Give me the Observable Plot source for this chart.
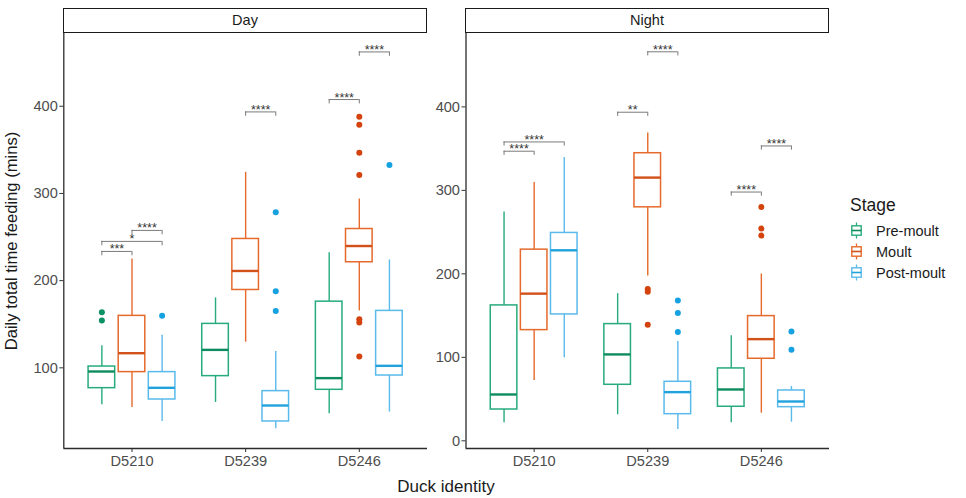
<!DOCTYPE html>
<html><head><meta charset="utf-8">
<script src="https://cdn.jsdelivr.net/npm/d3@7"></script>
<script src="https://cdn.jsdelivr.net/npm/@observablehq/plot@0.6"></script>
<style>
body{margin:0;background:#fff;font-family:"Liberation Sans",Arial,sans-serif;}
#wrap{position:relative;width:966px;height:498px;overflow:hidden;background:#fff;}
.panel{position:absolute;top:0;}
.panel g[aria-label="x-axis tick label"], .panel g[aria-label="y-axis tick label"]{font-size:14.6px;}
.strip{position:absolute;top:8px;height:25px;border:1.4px solid #1a1a1a;box-sizing:border-box;text-align:center;font-size:14.5px;line-height:22px;color:#1a1a1a;background:#fff;z-index:2;}
.ytitle{position:absolute;left:12px;top:241px;transform:translate(-50%,-50%) rotate(-90deg);white-space:nowrap;font-size:16.6px;color:#1a1a1a;}
.xtitle{position:absolute;left:446px;top:487px;transform:translate(-50%,-50%);white-space:nowrap;font-size:17px;color:#1a1a1a;}
.legend{position:absolute;left:850px;top:192px;}
.legend .title{font-size:17.5px;color:#1a1a1a;height:28px;line-height:26px;}
.legend .item{display:flex;align-items:center;height:21px;font-size:14.5px;color:#1a1a1a;}
.legend .item svg{margin-right:14px;margin-left:1px;}
</style>
</head><body>
<div id="wrap"></div>
<script>
// ---- data ----
const ducks = ["D5210", "D5239", "D5246"];
const stages = ["Pre-moult", "Moult", "Post-moult"];
const boxColors = ["#27ab7c", "#e56a2c", "#5abaeb"];
const medianColors = ["#0f8c5f", "#d2501a", "#22a2dd"];
const dotColors = ["#0b9163", "#d4420e", "#16a1e0"];

// box stats, order: D5210 (pre, moult, post), D5239 (...), D5246 (...)
const dayLo  = [57.6, 54.5, 38.5, 60.3, 129.4, 30.1, 47.3, 165.3, 49.3];
const dayQ1  = [76.7, 95.1, 63.7, 90.5, 189.3, 38.5, 74.8, 221.1, 91.2];
const dayMed = [95.8, 116.8, 77.1, 120.6, 211.1, 56.8, 88.2, 239.7, 102.3];
const dayQ3  = [101.5, 159.6, 95.1, 150.4, 247.8, 73.3, 175.9, 259.2, 165.3];
const dayHi  = [125.2, 224.9, 137.5, 180.2, 324.2, 118.7, 232.1, 293.6, 223.7];

const nightLo  = [21.6, 72.3, 99.5, 31.2, 197.4, 13.5, 21.6, 33.1, 22.3];
const nightQ1  = [37.5, 132.6, 151.4, 67.1, 279.7, 31.9, 40.8, 98.3, 40.3];
const nightMed = [55.5, 176.3, 228.2, 103.5, 315.3, 58.3, 61.5, 121.8, 47.1];
const nightQ3  = [162.2, 229.0, 249.0, 139.8, 344.5, 70.7, 86.7, 149.4, 60.3];
const nightHi  = [274.1, 309.4, 339.3, 176.3, 368.8, 119.1, 125.9, 199.8, 65.1];

const dayOutliers = [
  ["D5210", "Pre-moult", 163.8], ["D5210", "Pre-moult", 154.2],
  ["D5210", "Post-moult", 159.6],
  ["D5239", "Post-moult", 278.3], ["D5239", "Post-moult", 187.9], ["D5239", "Post-moult", 165.3],
  ["D5246", "Moult", 387.9], ["D5246", "Moult", 378.7], ["D5246", "Moult", 346.6], ["D5246", "Moult", 321.1],
  ["D5246", "Moult", 155.8], ["D5246", "Moult", 151.9], ["D5246", "Moult", 112.9],
  ["D5246", "Post-moult", 332.5]
];
const nightOutliers = [
  ["D5239", "Moult", 181.8], ["D5239", "Moult", 178.7], ["D5239", "Moult", 139.1],
  ["D5239", "Post-moult", 168.2], ["D5239", "Post-moult", 153.0], ["D5239", "Post-moult", 130.2],
  ["D5246", "Moult", 280.1], ["D5246", "Moult", 254.2], ["D5246", "Moult", 245.8],
  ["D5246", "Post-moult", 131.0], ["D5246", "Post-moult", 109.1]
];

const dayBrackets = [
  ["D5210", "Pre-moult", "Moult", 233.5, "***"],
  ["D5210", "Pre-moult", "Post-moult", 245.0, "*"],
  ["D5210", "Moult", "Post-moult", 257.6, "****"],
  ["D5239", "Moult", "Post-moult", 393.5, "****"],
  ["D5246", "Pre-moult", "Moult", 407.7, "****"],
  ["D5246", "Moult", "Post-moult", 462.3, "****"]
];
const nightBrackets = [
  ["D5210", "Pre-moult", "Moult", 346.9, "****"],
  ["D5210", "Pre-moult", "Post-moult", 358.0, "****"],
  ["D5239", "Pre-moult", "Moult", 393.6, "**"],
  ["D5239", "Moult", "Post-moult", 466.0, "****"],
  ["D5246", "Pre-moult", "Moult", 298.0, "****"],
  ["D5246", "Moult", "Post-moult", 353.2, "****"]
];

const dayTicks = [100, 200, 300, 400];
const nightTicks = [0, 100, 200, 300, 400];

// ---- helpers ----
const dodge = 0.265, halfBox = 0.117, tickLen = 5;
const xPos = (duck, stage) => ducks.indexOf(duck) + 1 + (stages.indexOf(stage) - 1) * dodge;

function makeRows(lo, q1, med, q3, hi) {
  const rows = [];
  ducks.forEach((d, di) => stages.forEach((s, si) => {
    const i = di * 3 + si;
    rows.push({duck: d, stage: s, si, x: xPos(d, s), lo: lo[i], q1: q1[i], med: med[i], q3: q3[i], hi: hi[i]});
  }));
  return rows;
}

function panel(opts) {
  const {rows, outliers, brackets, yDomain, yTicks, width, marginLeft, marginRight} = opts;
  const outs = outliers.map(([d, s, v]) => ({si: stages.indexOf(s), x: xPos(d, s), y: v}));
  const brs = brackets.map(([d, a, b, y, label]) => ({xa: xPos(d, a), xb: xPos(d, b), y, label}));
  const marks = [];
  stages.forEach((s, si) => {
    const r = rows.filter(d => d.si === si);
    const o = outs.filter(d => d.si === si);
    marks.push(
      Plot.ruleX(r, {x: "x", y1: "lo", y2: "q1", stroke: boxColors[si], strokeWidth: 1.4}),
      Plot.ruleX(r, {x: "x", y1: "q3", y2: "hi", stroke: boxColors[si], strokeWidth: 1.4}),
      Plot.rect(r, {x1: d => d.x - halfBox, x2: d => d.x + halfBox, y1: "q1", y2: "q3", fill: "white", stroke: boxColors[si], strokeWidth: 1.5}),
      Plot.ruleY(r, {y: "med", x1: d => d.x - halfBox, x2: d => d.x + halfBox, stroke: medianColors[si], strokeWidth: 2.4}),
      Plot.dot(o, {x: "x", y: "y", r: 3, fill: dotColors[si], stroke: "none"})
    );
  });
  marks.push(
    Plot.ruleY(brs, {y: "y", x1: "xa", x2: "xb", stroke: "#6b6b6b", strokeWidth: 0.9}),
    Plot.ruleX(brs, {x: "xa", y1: "y", y2: d => d.y - tickLen, stroke: "#6b6b6b", strokeWidth: 0.9}),
    Plot.ruleX(brs, {x: "xb", y1: "y", y2: d => d.y - tickLen, stroke: "#6b6b6b", strokeWidth: 0.9}),
    Plot.text(brs, {x: d => (d.xa + d.xb) / 2, y: "y", text: "label", lineAnchor: "bottom", dy: 2, fontSize: 12.5, fill: "#333"}),
    Plot.axisY({ticks: yTicks, tickSize: 4, tickPadding: 2, stroke: "#333", fill: "#4d4d4d", fontSize: 14.6, label: null}),
    Plot.axisX({ticks: [1, 2, 3], tickFormat: d => ducks[d - 1], tickSize: 4, tickPadding: 3, stroke: "#333", fill: "#4d4d4d", fontSize: 14.6, label: null}),
    Plot.ruleX([0.4], {stroke: "#2b2b2b", strokeWidth: 1.3}),
    Plot.ruleY([yDomain[0]], {stroke: "#2b2b2b", strokeWidth: 1.3})
  );
  return Plot.plot({
    width, height: 498, marginTop: 32.5, marginBottom: 50, marginLeft, marginRight,
    x: {type: "linear", domain: [0.4, 3.6]},
    y: {domain: yDomain},
    style: {fontFamily: "'Liberation Sans', Arial, sans-serif", fontSize: "14px", background: "transparent", overflow: "visible"},
    marks
  });
}

const wrap = document.getElementById("wrap");

const dayPlot = panel({
  rows: makeRows(dayLo, dayQ1, dayMed, dayQ3, dayHi), outliers: dayOutliers, brackets: dayBrackets,
  yDomain: [7.5, 484], yTicks: dayTicks, width: 432, marginLeft: 63.3, marginRight: 5
});
dayPlot.classList.add("panel"); dayPlot.style.left = "0px";
wrap.appendChild(dayPlot);

const nightPlot = panel({
  rows: makeRows(nightLo, nightQ1, nightMed, nightQ3, nightHi), outliers: nightOutliers, brackets: nightBrackets,
  yDomain: [-9.2, 488.5], yTicks: nightTicks, width: 400, marginLeft: 33.5, marginRight: 3
});
nightPlot.classList.add("panel"); nightPlot.style.left = "432px";
wrap.appendChild(nightPlot);

// strips
[["Day", 63, 364], ["Night", 465, 364]].forEach(([t, l, w]) => {
  const s = document.createElement("div");
  s.className = "strip"; s.style.left = l + "px"; s.style.width = w + "px"; s.textContent = t;
  wrap.appendChild(s);
});

// axis titles
const yt = document.createElement("div"); yt.className = "ytitle"; yt.textContent = "Daily total time feeding (mins)"; wrap.appendChild(yt);
const xt = document.createElement("div"); xt.className = "xtitle"; xt.textContent = "Duck identity"; wrap.appendChild(xt);

// legend
const lg = document.createElement("div"); lg.className = "legend";
const lt = document.createElement("div"); lt.className = "title"; lt.textContent = "Stage"; lg.appendChild(lt);
stages.forEach((s, i) => {
  const it = document.createElement("div"); it.className = "item";
  it.innerHTML = `<svg width="11" height="17" viewBox="0 0 11 17"><line x1="5.5" x2="5.5" y1="0.5" y2="16.5" stroke="${boxColors[i]}" stroke-width="1.3"/><rect x="0.8" y="3.8" width="9.4" height="9.4" fill="#fff" stroke="${boxColors[i]}" stroke-width="1.4"/><line x1="0.8" x2="10.2" y1="8.5" y2="8.5" stroke="${medianColors[i]}" stroke-width="1.6"/></svg><span>${s}</span>`;
  lg.appendChild(it);
});
wrap.appendChild(lg);
</script>
</body></html>
